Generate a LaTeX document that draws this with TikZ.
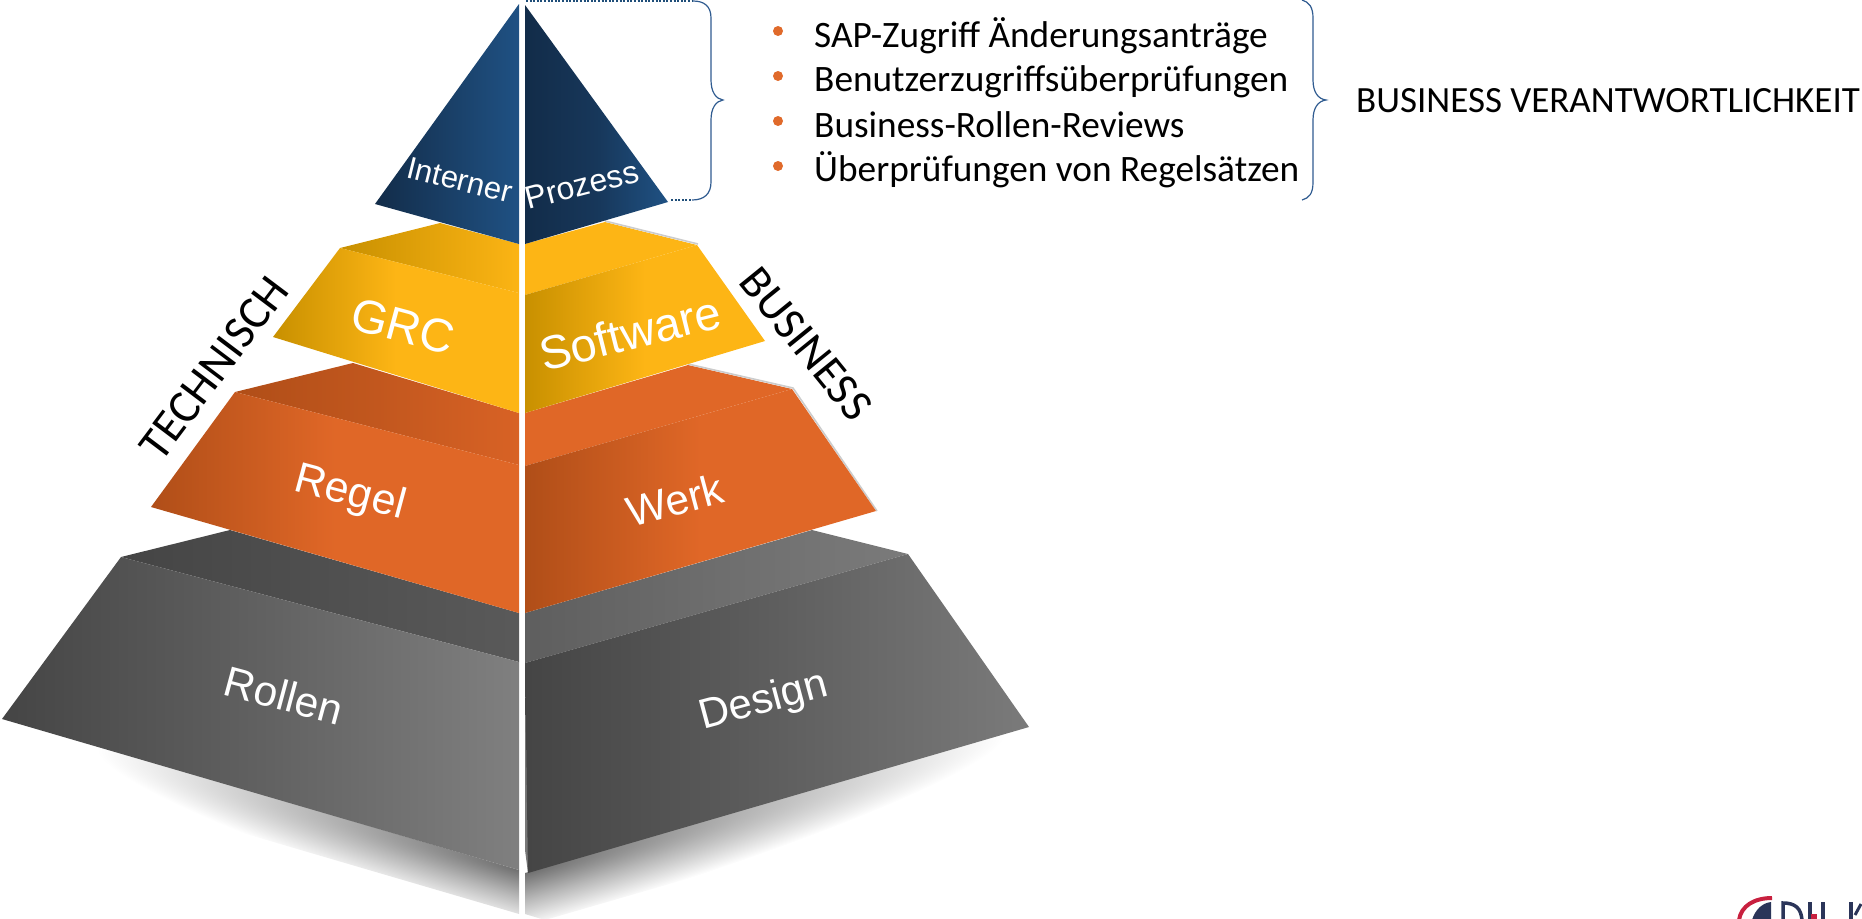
\documentclass[tikz,border=0pt]{standalone}
\usepackage{fontspec}
\newfontfamily\arialf{Liberation Sans}
\newfontfamily\calib{Carlito}
\definecolor{bluedark}{HTML}{122C49}
\definecolor{bluemid}{HTML}{17375A}
\definecolor{bluelight}{HTML}{1F5183}
\definecolor{yeldark}{HTML}{C89000}
\definecolor{yel}{HTML}{FDB515}
\definecolor{oradark}{HTML}{B04E18}
\definecolor{ora}{HTML}{E06727}
\definecolor{oratop}{HTML}{D86225}
\definecolor{braceblue}{HTML}{2F5B90}
\definecolor{dotblue}{HTML}{1F4E79}
\definecolor{edgegray}{HTML}{CCCCCC}
\definecolor{bullet}{HTML}{E06A2B}
\definecolor{logored}{HTML}{C8203F}
\definecolor{logonavy}{HTML}{2B3559}
\pgfdeclareradialshading{shadowfade}{\pgfpoint{0bp}{0bp}}{rgb(0bp)=(0.44,0.44,0.44); rgb(12bp)=(0.72,0.72,0.72); rgb(25bp)=(1,1,1); rgb(50bp)=(1,1,1)}
\tikzset{
  x=1pt,y=-1pt,
  hgrad/.style n args={3}{left color=#1,right color=#3,middle color=#2,draw=none},
  pyrlabel/.style={text=white,inner sep=0pt,font=\arialf\fontsize{#1}{#1}\selectfont},
  sidelabel/.style={text=black,inner sep=0pt,font=\calib\fontsize{#1}{#1}\selectfont},
  listitem/.style={text=black,inner sep=0pt,anchor=base west,font=\calib\fontsize{37.3}{37.3}\selectfont},
  bulletdot/.style={circle,fill=bullet,inner sep=0pt,minimum size=10pt},
  bracecurve/.style={draw=braceblue,line width=1.2pt},
  dotline/.style={draw=dotblue,line width=1.6pt,dash pattern=on 2pt off 1.6pt},
  edgeline/.style={draw=edgegray,line width=1.6pt},
}
\begin{document}
\begin{tikzpicture}
\useasboundingbox (0,0) rectangle (1862,918);
% ground shadow
\begin{scope}
 \clip (60,735) -- (519,870) -- (519,914) -- (113,795) -- cycle;
 \begin{scope}[transform canvas={rotate around={-16.3:(519,870)}}]
  \shade[shading=shadowfade] (519,870) ellipse (440 and 54);
 \end{scope}
\end{scope}
\begin{scope}
 \clip (525,873) -- (1040,722) -- (1012,785) -- (545,920) -- (525,914) -- cycle;
 \begin{scope}[transform canvas={rotate around={16.3:(525,873)}}]
  \shade[shading=shadowfade] (525,873) ellipse (500 and 54);
 \end{scope}
\end{scope}
% grey tier
\shade[hgrad={black!73!white}{black!69!white}{black!65!white}] (121,557) -- (230,530) -- (519,613) -- (519,662) -- cycle;
\shade[hgrad={black!73!white}{black!62!white}{black!50!white}] (121,557) -- (519,662) -- (519,870) -- (2,719) -- cycle;
\shade[hgrad={black!63!white}{black!57!white}{black!52!white}] (812,530) -- (908,554) -- (525,663) -- (525,613) -- cycle;
\fill[black!53!white] (525,663) -- (529,663) -- (529,873) -- (528,873) -- (525,850) -- cycle;
\shade[hgrad={black!73!white}{black!63!white}{black!52!white}] (525,663) -- (908,554) -- (1029,727) -- (528,873) -- cycle;
% orange tier
\shade[hgrad={oradark}{oratop!45!oradark}{oratop}] (235,392) -- (353,363) -- (519,413) -- (519,465) -- cycle;
\shade[hgrad={oradark}{ora}{ora}] (235,392) -- (519,465) -- (519,613) -- (151,507) -- cycle;
\fill[ora] (688,365) -- (792,389) -- (525,466) -- (525,413) -- cycle;
\draw[edgeline,line join=round] (688,364) -- (793,388) -- (877,511);
\shade[hgrad={oradark}{ora}{ora}] (525,466) -- (792,389) -- (876,511) -- (525,613) -- cycle;
% yellow tier
\shade[hgrad={yeldark}{yel!50!yeldark}{yel!97!yeldark}] (340,248) -- (440,223) -- (519,244) -- (519,293) -- cycle;
\shade[hgrad={yeldark}{yel}{yel}] (340,248) -- (519,293) -- (519,413) -- (273,337) -- cycle;
\fill[yel] (605,222) -- (697,245) -- (525,295) -- (525,244) -- cycle;
\draw[edgeline,line join=round] (605,221) -- (698,244);
\shade[hgrad={yeldark}{yel}{yel}] (525,295) -- (697,245) -- (765,341) -- (525,413) -- cycle;
% blue tier
\shade[hgrad={bluedark}{bluemid!70!bluelight}{bluelight}] (519,4) -- (519,244) -- (375,204) -- cycle;
\shade[hgrad={bluedark}{bluemid}{bluelight}] (525,5) -- (668,202) -- (525,244) -- cycle;
% labels on the pyramid
\node[pyrlabel=31,rotate=-14] (interner) at (460,180) {Interner};
\node[pyrlabel=32,rotate=14.5] (prozess) at (582,185) {Prozess};
\node[pyrlabel=47,rotate=-15] (grc) at (403,326) {GRC};
\node[pyrlabel=47,rotate=14] (software) at (630,333) {Software};
\node[pyrlabel=43,rotate=-15] (regel) at (350,494) {Regel};
\node[pyrlabel=42.5,rotate=15] (werk) at (675,500) {Werk};
\node[pyrlabel=42.5,rotate=-15] (rollen) at (284,695) {Rollen};
\node[pyrlabel=42,rotate=15] (design) at (764,702) {Design};
% side labels
\node[sidelabel=46.5,rotate=53] (technisch) at (214,368) {TECHNISCH};
\node[sidelabel=46,rotate=-51] (business) at (806,344) {BUSINESS};
% left brace
\coordinate (apexr) at (526,1);
\coordinate (bracetop) at (693,1);
\coordinate (basesr) at (671,200);
\coordinate (bracebot) at (692,200);
\draw[dotline] (apexr) -- (bracetop);
\draw[dotline] (basesr) -- (bracebot);
\draw[bracecurve] (bracetop) .. controls (704,1) and (711,6) .. (711,18) -- (711,80) .. controls (711,92) and (716,99) .. (723,100) .. controls (716,101) and (711,108) .. (711,120) -- (711,182) .. controls (711,194) and (704,200) .. (bracebot);
% list
\node[bulletdot] (b1) at (778,31) {};
\node[bulletdot] (b2) at (778,76) {};
\node[bulletdot] (b3) at (778,121) {};
\node[bulletdot] (b4) at (778,166) {};
\node[listitem] (t1) at (814,47) {SAP-Zugriff Änderungsanträge};
\node[listitem] (t2) at (814,91) {Benutzerzugriffsüberprüfungen};
\node[listitem] (t3) at (814,137) {Business-Rollen-Reviews};
\node[listitem] (t4) at (814,181) {Überprüfungen von Regelsätzen};
% right brace
\draw[bracecurve] (1302,0) .. controls (1309,2) and (1313,7) .. (1313,18) -- (1313,80) .. controls (1313,92) and (1318,99) .. (1326,100) .. controls (1318,101) and (1313,108) .. (1313,120) -- (1313,182) .. controls (1313,194) and (1309,198) .. (1302,200);
\node[anchor=base west,inner sep=0pt,font=\calib\fontsize{37}{37}\selectfont] (resp) at (1356,112) {BUSINESS VERANTWORTLICHKEIT};
% cropped logo at the corner
\begin{scope}
 \clip (1700,880) rectangle (1862,918);
 \draw[logored,line width=4pt] (1739,920) .. controls (1741,906) and (1754,898) .. (1772,898);
 \fill[logonavy] (1752,920) .. controls (1755,910) and (1762,903) .. (1771,902) -- (1771,920) -- cycle;
 \draw[logonavy,line width=3.5pt] (1783,920) -- (1783,903) .. controls (1795,903) and (1801,908) .. (1802,920);
 \draw[logonavy,line width=3.5pt] (1810,902) -- (1810,920);
 \fill[logored] (1811,914) rectangle (1817,920);
 \draw[logonavy,line width=3.5pt] (1823,902) -- (1823,920);
 \draw[logonavy,line width=3.5pt] (1851,902) -- (1851,920);
 \draw[logonavy,line width=3pt] (1861,904) -- (1855,915);
\end{scope}
\end{tikzpicture}
\end{document}
